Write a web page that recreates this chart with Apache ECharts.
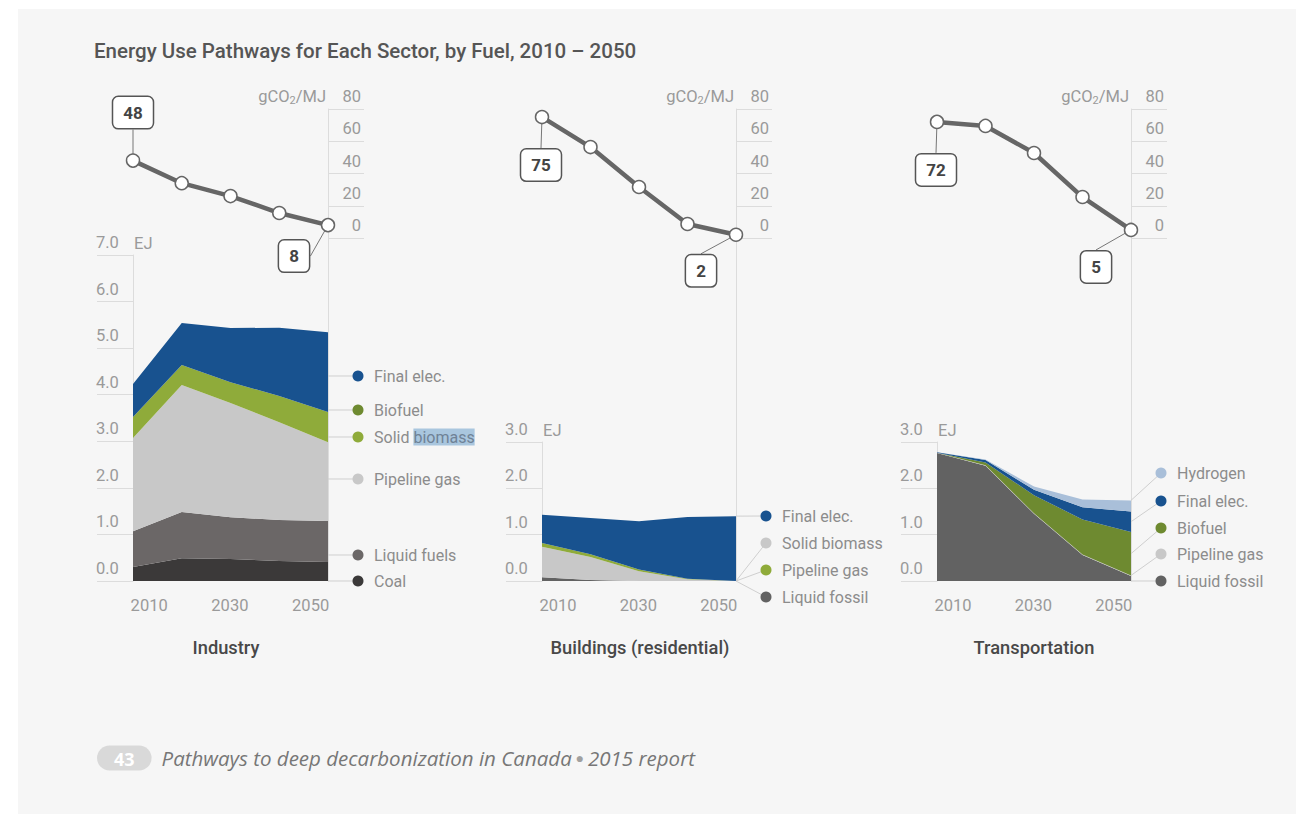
<!DOCTYPE html>
<html><head><meta charset="utf-8">
<script src="https://cdn.jsdelivr.net/npm/echarts@6/dist/echarts.min.js"></script>
<style>html,body{margin:0;padding:0;background:#fff}#c{width:1303px;height:814px}</style>
</head><body><div id="c"></div>
<script>
// ---------- data ----------
const years = ['2010', '2020', '2030', '2040', '2050'];
const yearLabelTicks = [2010, 2030, 2050];
const gco2Ticks = [0, 20, 40, 60, 80];

// carbon intensity, gCO2/MJ
const gco2Industry = [48, 34, 26, 15.5, 8];
const gco2Buildings = [75, 56.4, 31.6, 8.7, 2];
const gco2Transport = [72, 69.5, 52.7, 25.4, 5];

// Industry, EJ (stack order bottom -> top)
const indCoal = [0.30, 0.49, 0.47, 0.43, 0.41];
const indLiquid = [0.77, 0.99, 0.90, 0.88, 0.88];
const indGas = [2.00, 2.73, 2.45, 2.10, 1.69];
const indSolid = [0.45, 0.43, 0.45, 0.56, 0.65];
const indBiofuel = [0, 0, 0, 0, 0];
const indElec = [0.71, 0.90, 1.16, 1.47, 1.71];

// Buildings (residential), EJ
const bldLiquid = [0.08, 0.02, 0, 0, 0];
const bldSolid = [0.66, 0.50, 0.21, 0.04, 0];
const bldGas = [0.08, 0.06, 0.04, 0.01, 0];
const bldElec = [0.61, 0.78, 1.04, 1.33, 1.40];

// Transportation, EJ
const trnLiquid = [2.76, 2.49, 1.45, 0.56, 0.11];
const trnGas = [0.01, 0.01, 0.01, 0.01, 0.01];
const trnBiofuel = [0.00, 0.06, 0.39, 0.76, 0.94];
const trnElec = [0.01, 0.05, 0.12, 0.26, 0.44];
const trnHydrogen = [0.00, 0.01, 0.07, 0.17, 0.24];

// ---------- style / layout ----------
const F = "Roboto, 'Liberation Sans', sans-serif";
const C = {elec: '#18528f', biofuel: '#6e8a30', solid: '#8fab3a', gasGray: '#c8c8c8', liquid: '#6b6767', coal: '#3b3939', fossil: '#626262', hydrogen: '#a9bfd9'};
const LINE_TOP = 109, BASE = 581, GCO2_MIN = -212.7;
const AX_FS = 16.5;

const panels = [
  {key: 'ind', title: 'Industry', left: 133, width: 195, areaTop: 255, ejMax: 7, gco2: gco2Industry,
   offs: [[0, -48], [-34, 31]],
   series: [
     {name: 'Coal', data: indCoal, color: C.coal},
     {name: 'Liquid fuels', data: indLiquid, color: C.liquid},
     {name: 'Pipeline gas', data: indGas, color: C.gasGray},
     {name: 'Solid biomass', data: indSolid, color: C.solid},
     {name: 'Biofuel', data: indBiofuel, color: C.biofuel},
     {name: 'Final elec.', data: indElec, color: C.elec}],
   legend: [
     {name: 'Final elec.', y: 376, anchor: 'axis'},
     {name: 'Biofuel', y: 410, anchor: 'axis'},
     {name: 'Solid biomass', y: 437, anchor: 'axis', hl: true},
     {name: 'Pipeline gas', y: 479, anchor: 'axis'},
     {name: 'Liquid fuels', y: 555, anchor: 'axis'},
     {name: 'Coal', y: 581, anchor: 'axis'}]},
  {key: 'bld', title: 'Buildings (residential)', left: 542, width: 194, areaTop: 442, ejMax: 3, gco2: gco2Buildings,
   offs: [[-1, 48], [-35, 36]],
   series: [
     {name: 'Liquid fossil', data: bldLiquid, color: C.fossil},
     {name: 'Solid biomass', data: bldSolid, color: C.gasGray},
     {name: 'Pipeline gas', data: bldGas, color: C.solid},
     {name: 'Final elec.', data: bldElec, color: C.elec}],
   legend: [
     {name: 'Final elec.', y: 516, anchor: 'top'},
     {name: 'Solid biomass', y: 543, anchor: 'top'},
     {name: 'Pipeline gas', y: 570, anchor: 'top'},
     {name: 'Liquid fossil', y: 597, anchor: 'top'}]},
  {key: 'trn', title: 'Transportation', left: 937, width: 194, areaTop: 442, ejMax: 3, gco2: gco2Transport,
   offs: [[-1, 48], [-35, 37]],
   series: [
     {name: 'Liquid fossil', data: trnLiquid, color: C.fossil},
     {name: 'Pipeline gas', data: trnGas, color: C.gasGray},
     {name: 'Biofuel', data: trnBiofuel, color: C.biofuel},
     {name: 'Final elec.', data: trnElec, color: C.elec},
     {name: 'Hydrogen', data: trnHydrogen, color: C.hydrogen}],
   legend: [
     {name: 'Hydrogen', y: 473, anchor: 'top'},
     {name: 'Final elec.', y: 501, anchor: 'mid'},
     {name: 'Biofuel', y: 528, anchor: 'mid'},
     {name: 'Pipeline gas', y: 554, anchor: 'top'},
     {name: 'Liquid fossil', y: 581, anchor: 'axis'}]}
];

const axisGray = '#dcdcdc', labelGray = '#9a9a9a';
const grid = [], xAxis = [], yAxis = [], series = [];

panels.forEach((p, i) => {
  grid.push({left: p.left, width: p.width, top: LINE_TOP, height: BASE - LINE_TOP});
  grid.push({left: p.left, width: p.width, top: p.areaTop, height: BASE - p.areaTop});
  xAxis.push({gridIndex: 2 * i, type: 'category', data: years, boundaryGap: false, show: false});
  xAxis.push({gridIndex: 2 * i + 1, type: 'category', data: years, boundaryGap: false, show: false});
  xAxis.push({gridIndex: 2 * i + 1, type: 'value', position: 'bottom', min: 2006, max: 2054.3,
    axisLine: {show: false}, axisTick: {show: false}, splitLine: {show: false},
    axisLabel: {customValues: yearLabelTicks, margin: 16, color: labelGray, fontSize: AX_FS, fontFamily: F, formatter: v => String(v)}});
  yAxis.push({gridIndex: 2 * i, type: 'value', position: 'right', min: GCO2_MIN, max: 80,
    splitLine: {show: false},
    axisLine: {show: true, lineStyle: {color: axisGray, width: 1}},
    axisTick: {show: true, customValues: gco2Ticks, length: 36, lineStyle: {color: axisGray}},
    axisLabel: {customValues: gco2Ticks, align: 'right', margin: 33, verticalAlign: 'bottom', padding: [0, 0, 4, 0],
      color: labelGray, fontSize: AX_FS, fontFamily: F},
    name: '{a|gCO}{s|2}{a|/MJ}', nameLocation: 'end', nameGap: 13,
    nameTextStyle: {align: 'right', verticalAlign: 'middle', padding: [0, 2, 0, 0],
      rich: {a: {color: labelGray, fontSize: AX_FS, fontFamily: F, lineHeight: 20},
             s: {color: labelGray, fontSize: 11, fontFamily: F, verticalAlign: 'bottom', lineHeight: 11}}}});
  yAxis.push({gridIndex: 2 * i + 1, type: 'value', position: 'left', min: 0, max: p.ejMax, interval: 1,
    splitLine: {show: false},
    axisLine: {show: true, lineStyle: {color: axisGray, width: 1}},
    axisTick: {show: true, length: 36, lineStyle: {color: axisGray}},
    axisLabel: {align: 'left', margin: 37, verticalAlign: 'bottom', padding: [0, 0, 4, 0],
      color: labelGray, fontSize: AX_FS, fontFamily: F, formatter: v => v.toFixed(1)},
    name: 'EJ', nameLocation: 'end', nameGap: 12,
    nameTextStyle: {align: 'left', verticalAlign: 'middle', color: labelGray, fontSize: AX_FS, fontFamily: F, padding: [0, 0, 0, 1]}});

  // stacked areas
  p.series.forEach(s => {
    series.push({type: 'line', name: p.key + ' ' + s.name, stack: p.key, data: s.data,
      xAxisIndex: 3 * i + 1, yAxisIndex: 2 * i + 1, symbol: 'none', silent: true,
      lineStyle: {width: 0}, itemStyle: {color: s.color}, areaStyle: {color: s.color, opacity: 1}, z: 2});
  });

  // carbon intensity line
  const offs = p.offs;
  series.push({type: 'line', name: p.key + ' gCO2/MJ', data: p.gco2.map((v, k) => (k === 0 || k === p.gco2.length - 1)
      ? {value: v, label: {show: true}, labelLine: {show: true}} : v),
    xAxisIndex: 3 * i, yAxisIndex: 2 * i, z: 5,
    lineStyle: {color: '#666', width: 4.5},
    symbol: 'circle', symbolSize: 13, showSymbol: true,
    itemStyle: {color: '#fff', borderColor: '#666', borderWidth: 1.5},
    label: {show: false, position: 'inside', formatter: '{c}', color: '#444', fontWeight: 'bold', fontSize: 17, fontFamily: F,
      backgroundColor: '#fff', borderColor: '#555', borderWidth: 1.5, borderRadius: 5, padding: [8, 10, 6, 10]},
    labelLine: {show: false, lineStyle: {color: '#777', width: 1}},
    labelLayout: prm => {
      const o = prm.dataIndex === 0 ? offs[0] : offs[1];
      return {dx: o[0], dy: o[1]};
    }});
});

const chart = echarts.init(document.getElementById('c'), null, {renderer: 'svg'});
chart.setOption({
  backgroundColor: '#ffffff',
  animation: false,
  title: {text: 'Energy Use Pathways for Each Sector, by Fuel, 2010 \u2013 2050', left: 94, top: 40, padding: 0,
    textStyle: {fontFamily: F, fontSize: 20.5, fontWeight: 500, color: '#555'}},
  grid, xAxis, yAxis, series
});

// ---------- decorations (background, legends, sector titles, footer) ----------
const LEG_FS = 16;
const g = [{type: 'rect', z: -100, silent: true, shape: {x: 18, y: 9, width: 1278, height: 805}, style: {fill: '#f6f6f6'}}];
panels.forEach((p, i) => {
  const xr = p.left + p.width;
  const last = years.length - 1;
  let cum = 0; const bounds = {};
  p.series.forEach(s => { const b = cum; cum += s.data[last]; bounds[s.name] = {bottom: b, top: cum, mid: (b + cum) / 2}; });
  const colorOf = {}; p.series.forEach(s => colorOf[s.name] = s.color);
  const dotX = xr + 30, textX = xr + 46;
  p.legend.forEach(it => {
    let ax = xr, ay = it.y;
    if (it.anchor !== 'axis') {
      const pt = chart.convertToPixel({xAxisIndex: 3 * i + 1, yAxisIndex: 2 * i + 1}, [last, bounds[it.name][it.anchor]]);
      ax = pt[0]; ay = pt[1];
    }
    g.push({type: 'line', silent: true, z: 10, shape: {x1: ax, y1: ay, x2: dotX, y2: it.y}, style: {stroke: '#cfcfcf', lineWidth: 1}});
    g.push({type: 'circle', silent: true, z: 11, shape: {cx: dotX, cy: it.y, r: 5.5}, style: {fill: colorOf[it.name]}});
    const style = it.hl
      ? {text: '{a|Solid }{b|biomass}', x: textX, y: it.y, verticalAlign: 'middle',
         rich: {a: {fill: '#8c8c8c', fontSize: LEG_FS, fontFamily: F},
                b: {fill: '#6f8296', fontSize: LEG_FS, fontFamily: F, backgroundColor: '#a9c6de', padding: [1, 0, 0, 0]}}}
      : {text: it.name, x: textX, y: it.y, verticalAlign: 'middle', fill: '#8c8c8c', fontSize: LEG_FS, fontFamily: F};
    g.push({type: 'text', silent: true, z: 11, style});
  });
  g.push({type: 'text', silent: true, z: 11, style: {text: p.title, x: [226, 640, 1034][i], y: 647, align: 'center', verticalAlign: 'middle',
    fill: '#484848', fontSize: 18.3, fontWeight: 500, fontFamily: F}});
});
g.push({type: 'text', silent: true, z: 11, style: {
  text: '{pill|43}{sp| }{t|Pathways to deep decarbonization in Canada}{dot| \u25CF }{t|2015 report}',
  x: 97, y: 758, verticalAlign: 'middle',
  rich: {
    pill: {fill: '#ffffff', backgroundColor: '#d9d9d9', fontFamily: "'Open Sans', sans-serif", fontWeight: 'bold', fontSize: 18,
      borderRadius: 13, padding: [4, 17, 3, 17]},
    sp: {fontSize: 10, width: 10},
    t: {fill: '#777', fontFamily: "'Open Sans', sans-serif", fontStyle: 'italic', fontSize: 20.5},
    dot: {fill: '#a0a0a0', fontSize: 14}
  }}});
chart.setOption({graphic: g});
</script></body></html>
